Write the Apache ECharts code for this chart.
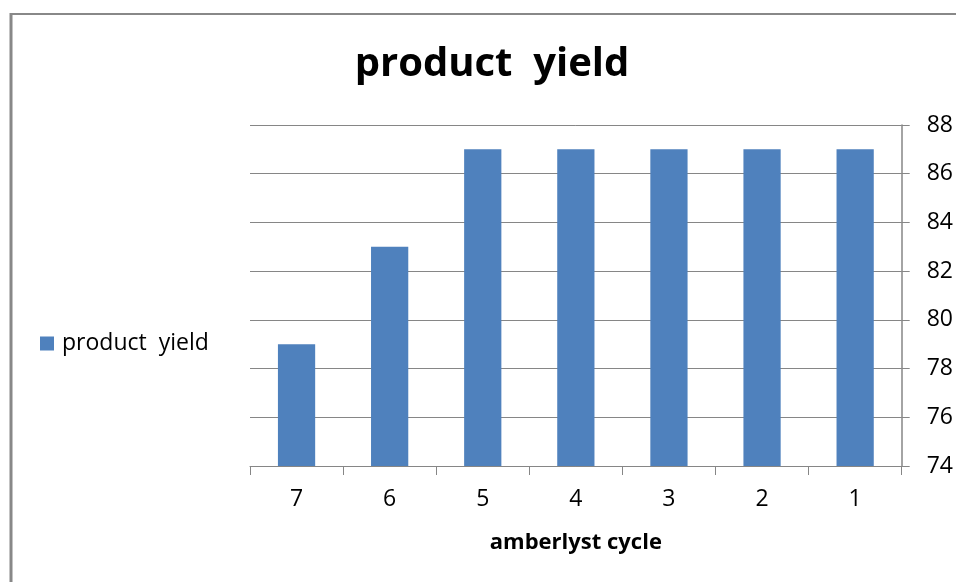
<!DOCTYPE html>
<html><head><meta charset="utf-8">
<script src="https://cdn.jsdelivr.net/npm/echarts@6/dist/echarts.min.js"></script>
<style>html,body{margin:0;padding:0;background:#fff}#c{width:956px;height:582px}</style>
</head><body><div id="c"></div>
<script>
const categories = ['7','6','5','4','3','2','1'];
const yieldValues = [79, 83, 87, 87, 87, 87, 87];
const seriesName = 'product  yield';
const chartTitle = 'product  yield';
const xAxisName = 'amberlyst cycle';

const chart = echarts.init(document.getElementById('c'));
const font = '"Open Sans", Lato, sans-serif';
chart.setOption({
  animation: false,
  backgroundColor: '#fff',
  title: {
    text: chartTitle, left: 487, top: 40, textAlign: 'center',
    textStyle: {fontFamily: font, fontWeight: 'bold', fontSize: 40, color: '#000'}
  },
  legend: {
    left: 35, top: 327, itemWidth: 14, itemHeight: 14, icon: 'rect', itemGap: 8,
    textStyle: {fontFamily: font, fontSize: 23, color: '#000', padding: [0, 0, 0, 3]},
    data: [seriesName]
  },
  graphic: [
    {type: 'line', shape: {x1: 10, y1: 14, x2: 956, y2: 14}, style: {stroke: '#888', lineWidth: 2}},
    {type: 'line', shape: {x1: 11, y1: 13, x2: 11, y2: 582}, style: {stroke: '#888', lineWidth: 3}}
  ],
  grid: {left: 250, right: 54, top: 125, bottom: 116},
  xAxis: {
    type: 'category', data: categories,
    name: xAxisName, nameLocation: 'middle', nameGap: 66,
    nameTextStyle: {fontFamily: font, fontWeight: 'bold', fontSize: 22, color: '#000'},
    axisLine: {lineStyle: {color: '#868686', width: 1}},
    axisTick: {show: true, length: 9, lineStyle: {color: '#868686'}},
    axisLabel: {fontFamily: font, fontSize: 23, color: '#000', margin: 22}
  },
  yAxis: {
    type: 'value', position: 'right', min: 74, max: 88, interval: 2,
    axisLine: {show: true, lineStyle: {color: '#868686', width: 1.5}},
    axisTick: {show: true, length: 8, lineStyle: {color: '#868686'}},
    axisLabel: {fontFamily: font, fontSize: 23, color: '#000', margin: 25},
    splitLine: {show: true, lineStyle: {color: '#868686', width: 1}}
  },
  series: [{
    name: seriesName, type: 'bar', data: yieldValues, barWidth: '40%',
    itemStyle: {color: '#4F81BD'}
  }]
});
</script></body></html>
